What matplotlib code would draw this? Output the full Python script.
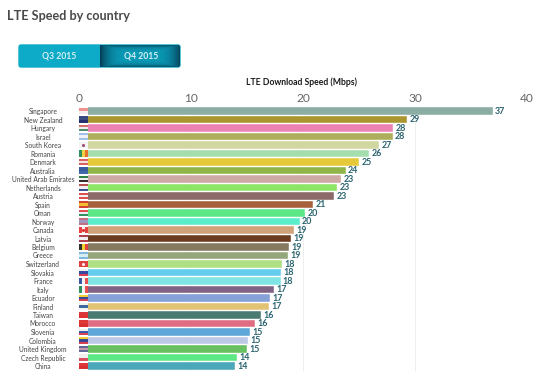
import matplotlib
matplotlib.use("Agg")
import matplotlib.pyplot as plt
import numpy as np
from matplotlib.patches import FancyBboxPatch, Rectangle

countries = ["Singapore", "New Zealand", "Hungary", "Israel", "South Korea", "Romania",
             "Denmark", "Australia", "United Arab Emirates", "Netherlands", "Austria",
             "Spain", "Oman", "Norway", "Canada", "Latvia", "Belgium", "Greece",
             "Switzerland", "Slovakia", "France", "Italy", "Ecuador", "Finland", "Taiwan",
             "Morocco", "Slovenia", "Colombia", "United Kingdom", "Czech Republic", "China"]
speeds = [36.95, 29.3, 28.05, 28.0, 26.8, 25.9, 25.0, 23.8, 23.4, 23.05, 22.8, 20.9, 20.2,
          19.7, 19.2, 18.9, 18.75, 18.7, 18.1, 18.05, 18.0, 17.4, 17.05, 17.0, 16.25, 15.7,
          15.3, 15.1, 15.0, 14.1, 13.9]
labels = [37, 29, 28, 28, 27, 26, 25, 24, 23, 23, 23, 21, 20, 20, 19, 19, 19, 19, 18, 18, 18,
          17, 17, 17, 16, 16, 15, 15, 15, 14, 14]
colors = ["#8cada4", "#a9962f", "#ec82b4", "#adae5c", "#d2d6a0", "#a4deae", "#e6c93a",
          "#8fb548", "#cfa9a5", "#8ce566", "#8d6a6a", "#a8603c", "#5de888", "#5aeccb",
          "#cfa27a", "#6b3d1e", "#857a5f", "#94a67c", "#afdf84", "#62cdee", "#7fe4e4",
          "#7f6385", "#86a0d8", "#e2c274", "#4a7a70", "#e06c84", "#5fa6d8", "#bcc8e6",
          "#68c060", "#5ce884", "#4aa8b8"]
# stripes of each flag, top to bottom (h) or left to right (v)
flags = [("h", ["#f09090", "#f5eeee"]), ("h", ["#3a4a80", "#27306f"]),
         ("h", ["#d87070", "#f0f0f0", "#4f8f6a"]), ("h", ["#a0c0e8", "#eef2f8", "#a0c0e8"]),
         ("h", ["#f4f4f4", "#f4f4f4", "#f4f4f4"]), ("v", ["#2f8f60", "#f0d040", "#e87030"]),
         ("h", ["#d86060", "#f0e0e0", "#d86060"]), ("h", ["#3a5aa0", "#4068a8"]),
         ("h", ["#30804a", "#f0f0f0", "#303030"]), ("h", ["#b85050", "#f0f0f0", "#3a5090"]),
         ("h", ["#d85050", "#f4f0f0", "#d85050"]), ("h", ["#d84030", "#f0c030", "#d84030"]),
         ("h", ["#e05050", "#f0f0f0", "#309060"]), ("h", ["#c07080", "#a098c0", "#c07080"]),
         ("v", ["#e84040", "#f4f0f0", "#e84040"]), ("h", ["#b04050", "#f0f0f0", "#b04050"]),
         ("v", ["#303030", "#f0d030", "#e04040"]), ("h", ["#80b8e0", "#d8ecf4", "#80b8e0"]),
         ("h", ["#e04040", "#e04040", "#e04040"]), ("h", ["#f0f0f0", "#3848a0", "#d84050"]),
         ("v", ["#3858a8", "#f4f4f4", "#e85050"]), ("v", ["#309060", "#f4f4f4", "#e85050"]),
         ("h", ["#f0d030", "#384898", "#d84050"]), ("h", ["#f4f4f4", "#40689f", "#f4f4f4"]),
         ("h", ["#d83838", "#e03030"]), ("h", ["#dc3838", "#d83030"]),
         ("h", ["#f0f0f0", "#3858a8", "#d84050"]), ("h", ["#f0d030", "#384898", "#d84050"]),
         ("h", ["#606a98", "#c898a8", "#606a98"]), ("h", ["#f0f0f0", "#d85060"]),
         ("h", ["#e03838", "#d83030"])]
# small emblems in the middle of a few flags
emblems = {"South Korea": "#a04a70", "Canada": "#d83030", "Switzerland": "#f8f0f0"}
x_ticks = [0, 10, 20, 30, 40]

W, H = 560, 371
plt.rcParams["font.family"] = ["Lato", "DejaVu Sans"]
fig = plt.figure(figsize=(W / 100, H / 100), dpi=100)

# page furniture, in pixel coordinates
bg = fig.add_axes([0, 0, 1, 1])
bg.axis("off")
bg.text(7, 16, "LTE Speed by country", fontsize=9.1, fontweight="bold", color="#4a4a4a",
        va="center", ha="left")
full = FancyBboxPatch((19, 45), 161, 22, boxstyle="round,pad=0,rounding_size=2",
                      fc="#0eabc8", ec="#0eabc8", lw=1)
bg.add_patch(full)
# darker pressed button for the selected quarter
xx, yy = np.meshgrid(np.linspace(-1, 1, 80), np.linspace(-1, 1, 24))
glow = np.maximum(np.abs(xx), np.abs(yy)) ** 4
cmap = matplotlib.colors.LinearSegmentedColormap.from_list("btn", ["#0a9ab5", "#063f58"])
im = bg.imshow(glow, extent=(100, 181, 68, 44), cmap=cmap, aspect="auto", zorder=2)
im.set_clip_path(full)
bg.set_xlim(0, W)
bg.set_ylim(H, 0)
bg.text(59, 56, "Q3 2015", fontsize=6.2, fontweight="bold", color="#d8f0f4", ha="center",
        va="center", zorder=3)
bg.text(141, 56, "Q4 2015", fontsize=6.2, fontweight="bold", color="#d8f0f4", ha="center",
        va="center", zorder=3)
bg.text(301, 82, "LTE Download Speed (Mbps)", fontsize=6.2, fontweight="bold", color="#1a1a1a",
        ha="center", va="center")

# main chart: x 0 at 79 px, 40 at 527 px; first row centred on 111 px, spacing 8.5 px
top, bottom = 106.5, 371
ax = fig.add_axes([79 / W, 1 - bottom / H, 448 / W, (bottom - top) / H])
ax.patch.set_alpha(0)
y = np.arange(len(countries))
ax.set_xlim(0, 40)
ax.set_ylim((bottom - 111) / 8.5, (top - 111) / 8.5)
ax.barh(y, speeds, height=0.92, color=colors, edgecolor="white", linewidth=0.3, zorder=2)
fh = 0.72
for i, (orient, stripes) in enumerate(flags):
    ax.add_patch(Rectangle((0, i - 0.5), 0.8, 1, fc="white", ec="none", zorder=3))
    n = len(stripes)
    for k, c in enumerate(stripes):
        if orient == "h":
            r = Rectangle((0, i - fh / 2 + fh * k / n), 0.8, fh / n, fc=c, ec="none", zorder=4)
        else:
            r = Rectangle((0.8 * k / n, i - fh / 2), 0.8 / n, fh, fc=c, ec="none", zorder=4)
        ax.add_patch(r)
    if countries[i] in emblems:
        ax.plot(0.4, i, "o", ms=2.2, mfc=emblems[countries[i]], mec="none", zorder=5)
for i, (s, v) in enumerate(zip(speeds, labels)):
    ax.text(s + 0.2, i + 0.05, str(v), fontsize=6.4, fontweight="bold", color="#2a6470",
            va="center", ha="left", zorder=5)

ax.set_xticks(x_ticks)
ax.xaxis.tick_top()
ax.tick_params(axis="x", length=0, pad=1.8, labelsize=8.6, labelcolor="#666666")
ax.set_yticks(y)
ax.set_yticklabels(countries, fontsize=4.8, color="#444444", ha="center")
ax.tick_params(axis="y", length=0, pad=26)
ax.grid(axis="x", color="#eeeeee", lw=0.7, zorder=0)
ax.set_axisbelow(True)
for s in ax.spines.values():
    s.set_visible(False)

fig.savefig("out.png", dpi=100)
